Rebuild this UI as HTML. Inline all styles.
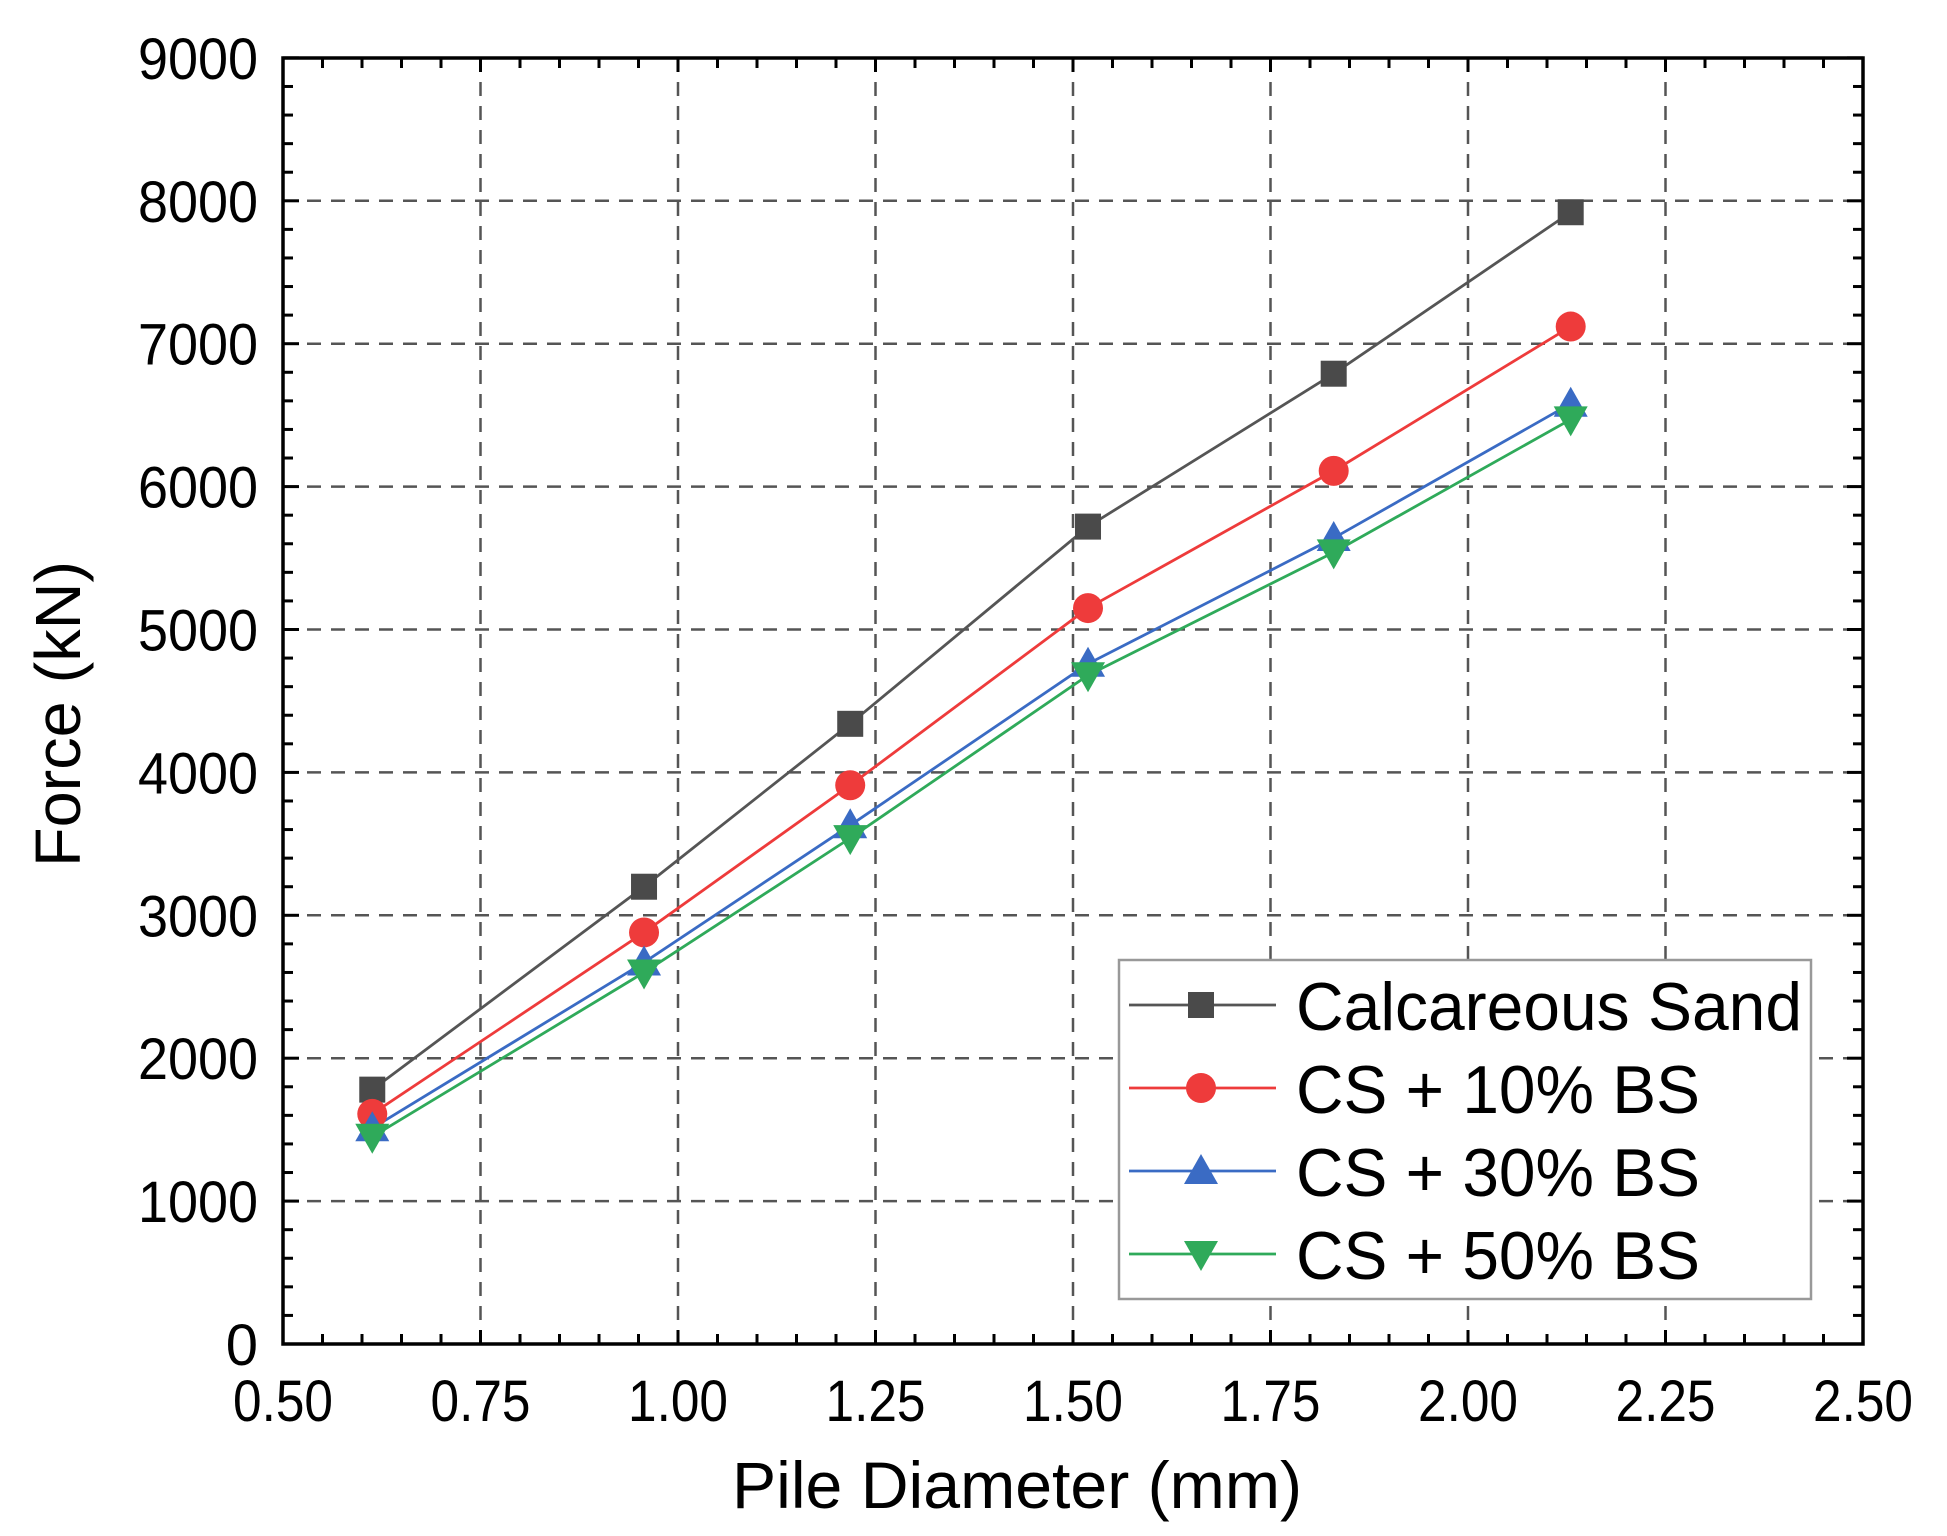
<!DOCTYPE html>
<html><head><meta charset="utf-8"><style>
html,body{margin:0;padding:0;background:#fff;}
svg{display:block;}
text{font-family:"Liberation Sans",Arial,sans-serif;fill:#000;}
</style></head><body>
<svg width="1947" height="1536" viewBox="0 0 1947 1536" xmlns="http://www.w3.org/2000/svg">
<rect width="1947" height="1536" fill="#fff"/>
<g id="grid" stroke="#555" stroke-width="2.5" stroke-dasharray="14,10" fill="none"></g>
<g id="ticks" stroke="#000" stroke-width="3"></g>
<rect x="283" y="58" width="1580" height="1286" fill="none" stroke="#000" stroke-width="3.5"/>
<g id="series"></g>
<g id="labels" font-size="58"></g>
<text x="1017" y="1508" font-size="66" text-anchor="middle" textLength="570" lengthAdjust="spacingAndGlyphs">Pile Diameter (mm)</text>
<text transform="translate(80,714) rotate(-90)" font-size="64" text-anchor="middle" textLength="306" lengthAdjust="spacingAndGlyphs">Force (kN)</text>
<g id="legend">
<rect x="1126" y="960" width="692" height="339" fill="#fff" stroke="#999" stroke-width="2.5"/>
</g>
</svg>
<script>
var ns="http://www.w3.org/2000/svg";
function el(p,t,a){var e=document.createElementNS(ns,t);for(var k in a)e.setAttribute(k,a[k]);document.getElementById(p).appendChild(e);return e;}
function X(v){return 283+(v-0.5)*790;}
function Y(v){return 1344-v*0.1429;}
for(var i=1;i<8;i++){var x=X(0.5+i*0.25);el('grid','line',{x1:x,y1:58,x2:x,y2:1344});}
for(var i=1;i<9;i++){var y=Y(i*1000);el('grid','line',{x1:283,y1:y,x2:1863,y2:y});}
for(var i=0;i<=40;i++){var x=X(0.5+i*0.05);var L=(i%5==0)?14:10;
 el('ticks','line',{x1:x,y1:1344,x2:x,y2:1344-L});el('ticks','line',{x1:x,y1:58,x2:x,y2:58+L});}
for(var i=0;i<=45;i++){var y=Y(i*200);var L=(i%5==0)?16:10;
 el('ticks','line',{x1:283,y1:y,x2:283+L,y2:y});el('ticks','line',{x1:1863,y1:y,x2:1863-L,y2:y});}
for(var i=0;i<=9;i++){var a={x:258,y:Y(i*1000)+21,'text-anchor':'end'};if(i>0){a.textLength=120;a.lengthAdjust='spacingAndGlyphs';}var t=el('labels','text',a);t.textContent=(i*1000);}
var xl=['0.50','0.75','1.00','1.25','1.50','1.75','2.00','2.25','2.50'];
for(var i=0;i<9;i++){var t=el('labels','text',{x:X(0.5+i*0.25),y:1421,'text-anchor':'middle',textLength:100,lengthAdjust:'spacingAndGlyphs'});t.textContent=xl[i];}
var xs=[0.613,0.957,1.218,1.519,1.83,2.13];
var S=[
 {c:'#4a4a4a',l:'#555',m:'sq',d:[1780,3200,4340,5720,6790,7920],n:'Calcareous Sand'},
 {c:'#ee3b3b',l:'#ee3b3b',m:'ci',d:[1610,2880,3910,5150,6110,7120],n:'CS + 10% BS'},
 {c:'#3a6bc4',l:'#3a6bc4',m:'up',d:[1510,2670,3630,4760,5640,6580],n:'CS + 30% BS'},
 {c:'#2faa5a',l:'#2faa5a',m:'dn',d:[1450,2600,3540,4680,5540,6470],n:'CS + 50% BS'}];
function mk(g,m,x,y,c){
 if(m=='sq')el(g,'rect',{x:x-13,y:y-13,width:26,height:26,fill:c});
 else if(m=='ci')el(g,'circle',{cx:x,cy:y,r:15,fill:c});
 else if(m=='up')el(g,'polygon',{points:(x-17)+','+(y+13)+' '+(x+17)+','+(y+13)+' '+x+','+(y-17),fill:c});
 else el(g,'polygon',{points:(x-17)+','+(y-13)+' '+(x+17)+','+(y-13)+' '+x+','+(y+17),fill:c});}
S.forEach(function(s){var p=s.d.map(function(v,i){return X(xs[i])+','+Y(v);}).join(' ');
 el('series','polyline',{points:p,fill:'none',stroke:s.l,'stroke-width':2.8});});
S.forEach(function(s){s.d.forEach(function(v,i){mk('series',s.m,X(xs[i]),Y(v),s.c);});});
var ly=[1005,1088,1171,1254],tw=[506,404,404,404];
S.forEach(function(s,i){el('legend','line',{x1:1136,y1:ly[i],x2:1283,y2:ly[i],stroke:s.l,'stroke-width':2.8});
 mk('legend',s.m,1208,ly[i],s.c);
 var t=el('legend','text',{x:1303,y:ly[i]+25,'font-size':68,textLength:tw[i],lengthAdjust:'spacingAndGlyphs'});t.textContent=s.n;});
document.querySelector('#legend').setAttribute('transform','translate(-7,0)');
</script>
</body></html>
